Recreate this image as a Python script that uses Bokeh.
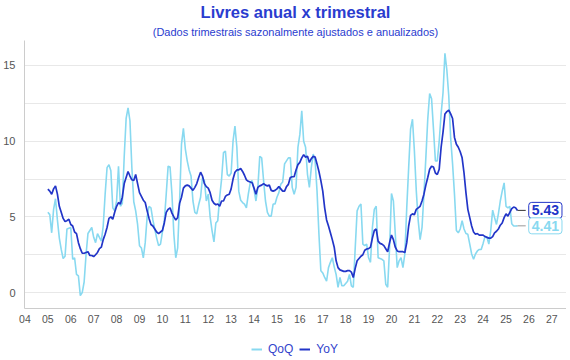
from bokeh.plotting import figure
from bokeh.layouts import column
from bokeh.models import Range1d, FixedTicker, Title, Legend, LegendItem, Label, ColumnDataSource
from bokeh.embed import file_html
from bokeh.resources import INLINE

# ---------------- data (monthly, starting Jan 2005) ----------------
start_year = 2005

qoq = [
    5.3, 5.15, 3.95, 5.5, 6.2, 4.8, 3.6, 2.85, 2.25, 2.4, 4.2, 4.25,          # 2005
    4.3, 2.2, 2.3, 1.2, 1.1, -0.2, 0.0, 0.7, 2.5, 3.9, 4.1, 4.3,             # 2006
    3.65, 3.3, 3.9, 3.65, 3.4, 4.4, 6.5, 8.25, 8.45, 8.05, 5.6, 5.4,         # 2007
    6.05, 8.35, 5.7, 5.9, 9.0, 11.5, 12.2, 11.35, 8.25, 6.0, 5.4, 4.5,       # 2008
    3.1, 2.95, 2.3, 3.3, 5.0, 5.7, 5.6, 4.8, 4.2, 3.6, 3.1, 3.2,             # 2009
    4.0, 4.75, 6.5, 8.35, 8.3, 6.5, 3.85, 2.3, 2.95, 6.0, 9.8, 10.85,        # 2010
    9.5, 8.7, 8.1, 7.7, 6.05, 5.3, 5.2, 5.8, 6.3, 7.6, 7.4, 6.05,            # 2011
    6.5, 5.0, 4.1, 3.35, 4.6, 4.75, 6.3, 7.5, 9.25, 9.35, 7.8, 7.7,          # 2012
    7.9, 10.0, 11.0, 9.6, 6.7, 6.1, 5.95, 5.85, 5.6, 6.5, 7.25, 7.4,         # 2013
    6.8, 6.05, 6.95, 9.0, 8.9, 7.4, 6.05, 5.3, 5.05, 5.05, 5.85, 5.85,       # 2014
    6.3, 6.6, 7.15, 7.3, 8.5, 8.7, 8.9, 8.9, 6.95, 6.5, 6.95, 9.6,           # 2015
    10.45, 12.0, 10.0, 9.6, 7.8, 6.95, 8.25, 9.15, 8.7, 6.7, 3.85, 1.45,     # 2016
    1.3, 1.0, 0.75, 1.65, 2.0, 2.3, 1.7, 1.2, 0.35, 1.0, 0.45, 0.45,         # 2017
    0.6, 0.75, 1.2, 0.45, 0.35, 2.95, 5.4, 5.7, 5.85, 3.2, 3.1, 3.2,         # 2018
    2.3, 2.0, 4.3, 5.5, 5.7, 2.3, 2.25, 2.2, 2.1, 0.55, 0.35, 2.95,          # 2019
    6.55, 6.05, 3.85, 1.65, 2.1, 2.3, 1.65, 2.55, 5.6, 8.25, 10.8, 11.45,    # 2020
    9.35, 6.7, 4.75, 3.5, 4.3, 6.5, 8.9, 11.45, 13.15, 12.8, 10.8, 8.7,      # 2021
    8.7, 10.0, 11.8, 13.2, 15.8, 14.7, 13.0, 10.2, 8.5, 6.5, 4.1, 3.95,      # 2022
    4.2, 4.75, 4.2, 3.9, 3.85, 3.2, 2.55, 2.2, 2.55, 2.75, 2.85, 2.85,       # 2023
    3.25, 3.7, 3.65, 3.2, 4.1, 5.45, 4.95, 4.5, 5.2, 6.05, 6.7, 7.25,        # 2024
    5.7, 5.6, 5.7, 4.55, 4.4, 4.4, 4.41,                                     # 2025
]

yoy = [
    6.83, 6.7, 6.5, 6.85, 7.05, 6.5, 5.7, 5.3, 4.9, 4.7, 4.75, 4.85,         # 2005
    4.5, 4.4, 4.0, 3.9, 3.3, 2.9, 2.6, 2.6, 2.65, 2.7, 2.45, 2.45,           # 2006
    2.38, 2.5, 2.65, 2.9, 3.0, 3.5, 3.85, 4.3, 4.9, 5.0, 4.85, 5.3,          # 2007
    5.7, 5.95, 5.85, 6.3, 7.2, 7.6, 8.0, 7.7, 7.45, 7.4, 7.8, 7.2,           # 2008
    6.6, 6.35, 6.1, 5.95, 5.4, 4.9, 4.5, 4.4, 4.2, 4.0, 3.9, 4.0,            # 2009
    4.1, 4.6, 5.3, 5.5, 5.6, 5.25, 5.0, 4.8, 4.95, 5.9, 6.3, 6.9,            # 2010
    7.05, 7.1, 7.05, 6.9, 6.75, 6.95, 7.2, 7.6, 7.95, 7.7, 7.2, 7.0,         # 2011
    6.9, 6.6, 6.1, 5.9, 5.8, 5.85, 5.7, 6.05, 6.05, 6.35, 6.45, 6.5,         # 2012
    6.85, 7.5, 7.95, 8.1, 8.1, 8.2, 8.0, 7.75, 7.45, 7.35, 7.3, 7.25,        # 2013
    6.9, 6.5, 6.95, 7.05, 7.1, 7.2, 7.1, 7.05, 7.1, 6.75, 6.7, 6.75,         # 2014
    6.85, 7.0, 6.85, 6.7, 6.7, 7.0, 7.15, 7.6, 7.65, 7.65, 8.1, 8.45,        # 2015
    8.6, 8.9, 9.1, 8.95, 9.0, 8.6, 8.85, 9.0, 8.95, 8.5, 8.0, 7.4,           # 2016
    6.7, 5.6, 4.8, 4.4, 3.95, 3.5, 3.0, 2.1, 1.65, 1.5, 1.45, 1.4,           # 2017
    1.4, 1.45, 1.45, 1.35, 1.0, 1.6, 2.1, 2.25, 2.4, 2.5, 2.8, 2.88,         # 2018
    2.9, 3.0, 3.6, 4.1, 4.2, 3.4, 3.25, 3.2, 3.1, 2.9, 2.7, 3.3,             # 2019
    3.8, 3.5, 3.0, 2.75, 2.7, 2.7, 2.7, 2.65, 3.3, 4.4, 5.1, 5.2,            # 2020
    5.15, 5.5, 5.6, 5.7, 6.05, 6.5, 7.1, 7.6, 8.15, 8.35, 8.3, 7.9,          # 2021
    7.8, 8.15, 9.6, 10.6, 11.8, 11.95, 12.05, 11.8, 11.5, 10.25, 9.8, 9.6,   # 2022
    9.3, 8.9, 7.9, 6.6, 5.5, 4.95, 4.4, 4.0, 3.85, 3.9, 3.8, 3.8,            # 2023
    3.8, 3.7, 3.65, 3.6, 3.6, 3.7, 3.95, 4.05, 4.2, 4.45, 4.6, 4.95,         # 2024
    5.2, 5.05, 5.3, 5.55, 5.65, 5.6, 5.43,                                   # 2025
]

year_ticks = list(range(2004, 2028))
year_labels = [f"{y % 100:02d}" for y in year_ticks]
y_ticks = [0, 5, 10, 15]
y_grid = [0, 2.5, 5, 7.5, 10, 12.5, 15]
series_names = ["QoQ", "YoY"]

title_text = "Livres anual x trimestral"
subtitle_text = "(Dados trimestrais sazonalmente ajustados e anualizados)"

# ---------------- style ----------------
DARK = "#2235c8"
LIGHT = "#88d9f0"
TITLE_C = "#2a3ccf"
FONT = "Liberation Sans"
W = 566

x = [start_year + i / 12 for i in range(len(yoy))]
src = ColumnDataSource(dict(x=x, qoq=qoq, yoy=yoy))

p = figure(width=W, height=338, output_backend="svg", toolbar_location=None,
           title=None,
           x_range=Range1d(2003.98, 2027.64), y_range=Range1d(-1.05, 16.65),
           min_border_left=0, min_border_right=0, min_border_top=0, min_border_bottom=30)
p.outline_line_color = None
p.background_fill_color = "white"
p.border_fill_color = "white"

r_q = p.line("x", "qoq", source=src, line_color=LIGHT, line_width=1.6)
r_y = p.line("x", "yoy", source=src, line_color=DARK, line_width=1.7)

# axes
p.xaxis.ticker = FixedTicker(ticks=year_ticks)
p.xaxis.major_label_overrides = {t: l for t, l in zip(year_ticks, year_labels)}
p.yaxis.ticker = FixedTicker(ticks=y_ticks)
for ax in (p.xaxis[0], p.yaxis[0]):
    ax.axis_line_color = "#cccccc"
    ax.major_tick_line_color = None
    ax.minor_tick_line_color = None
    ax.major_label_text_color = "#555555"
    ax.major_label_text_font = FONT
p.xaxis.major_label_text_font_size = "10.5px"
p.yaxis.major_label_text_font_size = "11px"
p.xaxis.major_label_standoff = 0
p.yaxis.major_label_standoff = 3

p.xgrid.visible = False
p.ygrid.ticker = FixedTicker(ticks=y_grid)
p.ygrid.grid_line_color = "#e8e8e8"

# end labels with leader lines
lead = 0.36
p.segment(x0=[x[-1]], y0=[yoy[-1]], x1=[x[-1] + lead], y1=[yoy[-1]], line_color="#333333", line_width=1)
p.segment(x0=[x[-1]], y0=[qoq[-1]], x1=[x[-1] + lead], y1=[qoq[-1]], line_color="#999999", line_width=1)
for val, col in ((yoy[-1], DARK), (qoq[-1], LIGHT)):
    p.add_layout(Label(x=x[-1] + lead, y=val, x_offset=3, text=f"{val:.2f}",
                       text_baseline="middle", text_align="left",
                       text_font=FONT, text_font_style="bold", text_font_size="14px",
                       text_color=col, border_line_color=col, border_line_width=1,
                       background_fill_color="white", padding=3, border_radius=3))

# titles
p.add_layout(Title(text=subtitle_text, align="center", text_color=TITLE_C,
                   text_font=FONT, text_font_size="11px", text_font_style="normal",
                   standoff=6, offset=0), "above")
p.add_layout(Title(text=title_text, align="center", text_color=TITLE_C,
                   text_font=FONT, text_font_size="16.5px", text_font_style="bold",
                   standoff=0, offset=0), "above")

# legend strip (separate small figure below the chart)
pl = figure(width=W, height=18, output_backend="svg", toolbar_location=None,
            title=None, x_range=Range1d(0, 1), y_range=Range1d(0, 1),
            x_axis_location=None, y_axis_location=None,
            min_border_left=0, min_border_right=0, min_border_top=0, min_border_bottom=0)
pl.grid.visible = False
pl.outline_line_color = None
lq = pl.line(x=[-5, -4], y=[-5, -5], line_color=LIGHT, line_width=2)
ly = pl.line(x=[-5, -4], y=[-5, -5], line_color=DARK, line_width=2)
legend = Legend(items=[LegendItem(label=series_names[0], renderers=[lq]),
                       LegendItem(label=series_names[1], renderers=[ly])],
                orientation="horizontal", location=(227, 0),
                label_text_color="#3344cc", label_text_font=FONT, label_text_font_size="12px",
                border_line_color=None, background_fill_alpha=0,
                glyph_width=11, glyph_height=12, spacing=6, padding=0, margin=0,
                label_standoff=6)
pl.add_layout(legend)

layout = column(p, pl, spacing=0)
open("out.html", "w").write(file_html(layout, INLINE))
